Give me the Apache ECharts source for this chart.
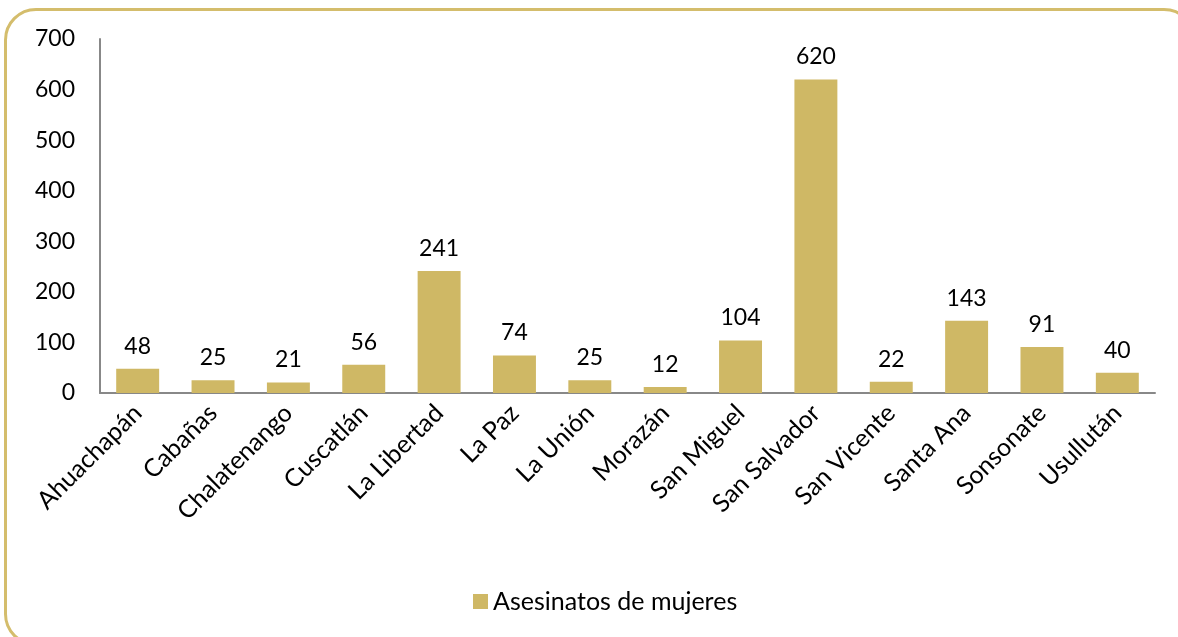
<!DOCTYPE html>
<html>
<head>
<meta charset="utf-8">
<script src="https://cdn.jsdelivr.net/npm/echarts@6/dist/echarts.min.js"></script>
<style>
  html, body { margin: 0; padding: 0; background: #fff; overflow: hidden; }
  #wrap { position: relative; width: 1178px; height: 637px; overflow: hidden; }
  #chart { position: absolute; left: 0; top: 0; width: 1178px; height: 637px; }
  /* marco dorado redondeado */
  #frame {
    position: absolute; left: 4px; top: 8px; width: 1186px; height: 632px;
    border: 3px solid #D4BD6C; border-radius: 32px; pointer-events: none;
  }
</style>
</head>
<body>
<div id="wrap">
  <div id="chart"></div>
  <div id="frame"></div>
</div>
<script>
  const departamentos = [
    "Ahuachapán", "Cabañas", "Chalatenango", "Cuscatlán", "La Libertad",
    "La Paz", "La Unión", "Morazán", "San Miguel", "San Salvador",
    "San Vicente", "Santa Ana", "Sonsonate", "Usullután"
  ];
  const asesinatos = [48, 25, 21, 56, 241, 74, 25, 12, 104, 620, 22, 143, 91, 40];
  const serieNombre = "Asesinatos de mujeres";

  const chart = echarts.init(document.getElementById("chart"));
  const font = "Lato, 'Open Sans', sans-serif";

  const option = {
    animation: false,
    textStyle: { fontFamily: font },
    grid: { left: 100, top: 39, right: 23, bottom: 244, containLabel: false },
    legend: {
      top: 584,
      left: 468,
      data: [serieNombre],
      icon: "rect",
      itemWidth: 15,
      itemHeight: 15,
      itemGap: 6,
      textStyle: { fontSize: 25, color: "#000", fontFamily: font }
    },
    xAxis: {
      type: "category",
      data: departamentos,
      axisLine: { lineStyle: { color: "#888", width: 2 } },
      axisTick: { show: false },
      axisLabel: {
        rotate: 45,
        interval: 0,
        fontSize: 25,
        color: "#000",
        margin: 16,
        fontFamily: font
      }
    },
    yAxis: {
      type: "value",
      min: 0,
      max: 700,
      interval: 100,
      axisLine: { show: true, lineStyle: { color: "#888", width: 2 } },
      axisTick: { show: false },
      splitLine: { show: false },
      axisLabel: { fontSize: 23, color: "#000", margin: 25, fontFamily: font }
    },
    series: [
      {
        name: serieNombre,
        type: "bar",
        data: asesinatos,
        barWidth: "57%",
        itemStyle: { color: "#CFB865" },
        label: {
          show: true,
          position: "top",
          distance: 11,
          fontSize: 23,
          color: "#000",
          fontFamily: font
        }
      }
    ]
  };

  chart.setOption(option);
</script>
</body>
</html>
